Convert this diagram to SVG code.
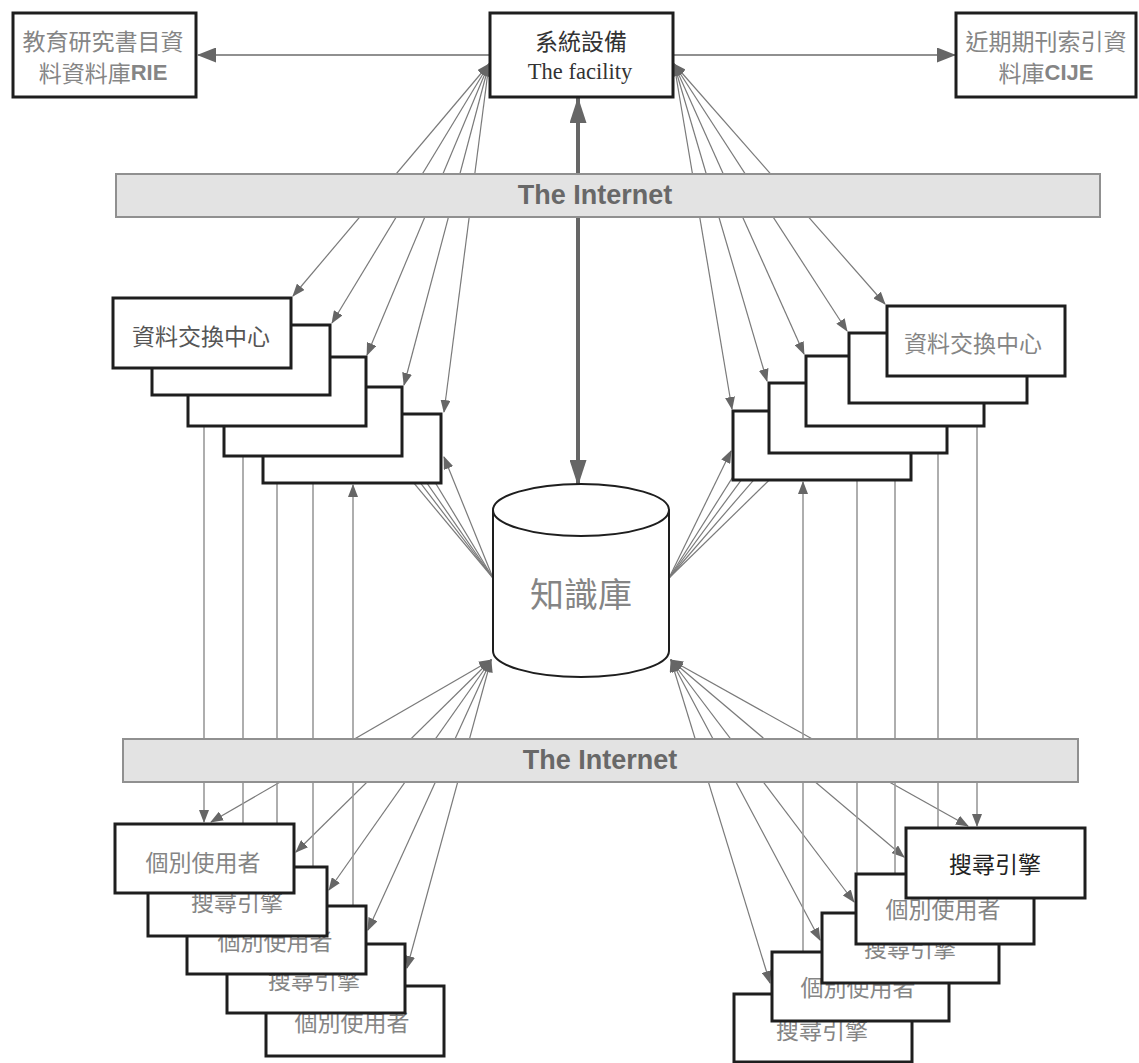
<svg xmlns="http://www.w3.org/2000/svg" width="1139" height="1063" viewBox="0 0 1139 1063">
<style>
.box{fill:#fff;stroke:#1e1e1e;stroke-width:3}
.bar{fill:#e3e3e3;stroke:#909090;stroke-width:2}
.cj{font-family:"Noto Sans CJK TC","Noto Sans CJK SC",sans-serif;font-size:23px;text-anchor:middle;dominant-baseline:central}
.g{fill:#858585}
.d{fill:#333}
.net{font-family:"Liberation Sans",Arial,sans-serif;font-weight:bold;font-size:27px;fill:#686868;text-anchor:middle;dominant-baseline:central}
.ln{stroke:#7a7a7a;stroke-width:1.2;fill:none}
.vl{stroke:#9a9a9a;stroke-width:1.6;fill:none}
.hz{stroke:#909090;stroke-width:2;fill:none}
</style>
<defs>
<marker id="ah" viewBox="0 0 13 10" refX="12" refY="5" markerWidth="13" markerHeight="10" markerUnits="userSpaceOnUse" orient="auto-start-reverse"><path d="M0,0 L13,5 L0,10 z" fill="#666"/></marker>
<marker id="ahL" viewBox="0 0 19 15" refX="18" refY="7.5" markerWidth="19" markerHeight="15" markerUnits="userSpaceOnUse" orient="auto-start-reverse"><path d="M0,0 L19,7.5 L0,15 z" fill="#666"/></marker>
<marker id="ahT" viewBox="0 0 26 17" refX="25" refY="8.5" markerWidth="26" markerHeight="17" markerUnits="userSpaceOnUse" orient="auto-start-reverse"><path d="M0,0 L26,8.5 L0,17 z" fill="#666"/></marker>
</defs>
<rect width="1139" height="1063" fill="#fff"/>

<g id="connectors">
  <line class="hz" x1="490" y1="55" x2="198" y2="55" marker-end="url(#ahL)"/>
  <line class="hz" x1="673" y1="55" x2="955" y2="55" marker-end="url(#ahL)"/>
  <line x1="578" y1="98" x2="578" y2="485" stroke="#666" stroke-width="4" marker-start="url(#ahT)" marker-end="url(#ahT)"/>
  <line class="ln" x1="489" y1="64" x2="293" y2="296" marker-start="url(#ah)" marker-end="url(#ah)"/>
  <line class="ln" x1="489" y1="64" x2="332" y2="323" marker-start="url(#ah)" marker-end="url(#ah)"/>
  <line class="ln" x1="489" y1="64" x2="367" y2="355" marker-start="url(#ah)" marker-end="url(#ah)"/>
  <line class="ln" x1="489" y1="64" x2="404" y2="385" marker-start="url(#ah)" marker-end="url(#ah)"/>
  <line class="ln" x1="489" y1="64" x2="444" y2="412" marker-start="url(#ah)" marker-end="url(#ah)"/>
  <line class="ln" x1="674" y1="64" x2="885" y2="304" marker-start="url(#ah)" marker-end="url(#ah)"/>
  <line class="ln" x1="674" y1="64" x2="847" y2="331" marker-start="url(#ah)" marker-end="url(#ah)"/>
  <line class="ln" x1="674" y1="64" x2="804" y2="354" marker-start="url(#ah)" marker-end="url(#ah)"/>
  <line class="ln" x1="674" y1="64" x2="767" y2="381" marker-start="url(#ah)" marker-end="url(#ah)"/>
  <line class="ln" x1="674" y1="64" x2="732" y2="409" marker-start="url(#ah)" marker-end="url(#ah)"/>
  <line class="ln" x1="493" y1="578" x2="293" y2="338" marker-end="url(#ah)"/>
  <line class="ln" x1="493" y1="578" x2="332" y2="367" marker-end="url(#ah)"/>
  <line class="ln" x1="493" y1="578" x2="367" y2="397" marker-end="url(#ah)"/>
  <line class="ln" x1="493" y1="578" x2="404" y2="431" marker-end="url(#ah)"/>
  <line class="ln" x1="493" y1="578" x2="444" y2="457" marker-end="url(#ah)"/>
  <line class="ln" x1="669" y1="578" x2="885" y2="367" marker-end="url(#ah)"/>
  <line class="ln" x1="669" y1="578" x2="847" y2="372" marker-end="url(#ah)"/>
  <line class="ln" x1="669" y1="578" x2="804" y2="395" marker-end="url(#ah)"/>
  <line class="ln" x1="669" y1="578" x2="767" y2="423" marker-end="url(#ah)"/>
  <line class="ln" x1="669" y1="578" x2="731" y2="451" marker-end="url(#ah)"/>
  <line class="ln" x1="491" y1="660" x2="211" y2="822" marker-start="url(#ah)" marker-end="url(#ah)"/>
  <line class="ln" x1="491" y1="660" x2="296" y2="852" marker-start="url(#ah)" marker-end="url(#ah)"/>
  <line class="ln" x1="491" y1="660" x2="329" y2="890" marker-start="url(#ah)" marker-end="url(#ah)"/>
  <line class="ln" x1="491" y1="660" x2="368" y2="930" marker-start="url(#ah)" marker-end="url(#ah)"/>
  <line class="ln" x1="491" y1="660" x2="407" y2="968" marker-start="url(#ah)" marker-end="url(#ah)"/>
  <line class="ln" x1="671" y1="660" x2="968" y2="826" marker-start="url(#ah)" marker-end="url(#ah)"/>
  <line class="ln" x1="671" y1="660" x2="904" y2="857" marker-start="url(#ah)" marker-end="url(#ah)"/>
  <line class="ln" x1="671" y1="660" x2="854" y2="902" marker-start="url(#ah)" marker-end="url(#ah)"/>
  <line class="ln" x1="671" y1="660" x2="820" y2="940" marker-start="url(#ah)" marker-end="url(#ah)"/>
  <line class="ln" x1="671" y1="660" x2="770" y2="983" marker-start="url(#ah)" marker-end="url(#ah)"/>
  <line class="vl" x1="204" y1="370" x2="204" y2="822" marker-start="url(#ah)" marker-end="url(#ah)"/>
  <line class="vl" x1="243" y1="825" x2="243" y2="397" marker-end="url(#ah)"/>
  <line class="vl" x1="277" y1="825" x2="277" y2="428" marker-end="url(#ah)"/>
  <line class="vl" x1="313" y1="868" x2="313" y2="458" marker-end="url(#ah)"/>
  <line class="vl" x1="353" y1="907" x2="353" y2="485" marker-end="url(#ah)"/>
  <line class="vl" x1="803" y1="953" x2="803" y2="482" marker-end="url(#ah)"/>
  <line class="vl" x1="857" y1="875" x2="857" y2="455" marker-end="url(#ah)"/>
  <line class="vl" x1="895" y1="875" x2="895" y2="428" marker-end="url(#ah)"/>
  <line class="vl" x1="938" y1="829" x2="938" y2="405" marker-end="url(#ah)"/>
  <line class="vl" x1="977" y1="378" x2="977" y2="826" marker-start="url(#ah)" marker-end="url(#ah)"/>
</g>

<g id="n-internet-top">
  <rect class="bar" x="116" y="174" width="984" height="43"/>
  <text class="net" x="595" y="195">The Internet</text>
</g>
<g id="n-internet-bottom">
  <rect class="bar" x="123" y="739" width="955" height="43"/>
  <text class="net" x="600" y="760">The Internet</text>
</g>

<g id="n-rie">
  <rect class="box" x="13" y="13" width="183" height="84"/>
  <text class="cj g" x="103" y="40">教育研究書目資</text>
  <text class="cj g" x="103" y="72">料資料庫<tspan font-family="Liberation Sans, Arial, sans-serif" font-weight="bold" font-size="22">RIE</tspan></text>
</g>
<g id="n-facility">
  <rect class="box" x="490" y="13" width="183" height="84"/>
  <text class="cj d" x="581" y="40">系統設備</text>
  <text x="580" y="71" font-family="Liberation Serif, 'Times New Roman', serif" font-size="22.5" fill="#333" text-anchor="middle" dominant-baseline="central">The facility</text>
</g>
<g id="n-cije">
  <rect class="box" x="956" y="13" width="180" height="84"/>
  <text class="cj g" x="1046" y="40">近期期刊索引資</text>
  <text class="cj g" x="1046" y="72">料庫<tspan font-family="Liberation Sans, Arial, sans-serif" font-weight="bold" font-size="22">CIJE</tspan></text>
</g>

<g id="n-kb">
  <path d="M493,510 L493,651 A88,26 0 0,0 669,651 L669,510" fill="#fff" stroke="#1e1e1e" stroke-width="2"/>
  <ellipse cx="581" cy="510" rx="88" ry="26" fill="#fff" stroke="#1e1e1e" stroke-width="2"/>
  <text x="581" y="592" font-family="Noto Sans CJK TC, Noto Sans CJK SC, sans-serif" font-size="34" fill="#858585" text-anchor="middle" dominant-baseline="central">知識庫</text>
</g>

<g id="n-ex-left-5"><rect class="box" x="263" y="414" width="178" height="69"/></g>
<g id="n-ex-left-4"><rect class="box" x="224" y="387" width="178" height="69"/></g>
<g id="n-ex-left-3"><rect class="box" x="188" y="357" width="178" height="69"/></g>
<g id="n-ex-left-2"><rect class="box" x="152" y="325" width="178" height="70"/></g>
<g id="n-ex-left-1"><rect class="box" x="113" y="298" width="178" height="70"/><text class="cj" fill="#555" x="201" y="335">資料交換中心</text></g>

<g id="n-ex-right-5"><rect class="box" x="733" y="411" width="178" height="69"/></g>
<g id="n-ex-right-4"><rect class="box" x="769" y="383" width="178" height="70"/></g>
<g id="n-ex-right-3"><rect class="box" x="806" y="356" width="178" height="70"/></g>
<g id="n-ex-right-2"><rect class="box" x="849" y="333" width="178" height="70"/></g>
<g id="n-ex-right-1"><rect class="box" x="887" y="306" width="178" height="70"/><text class="cj g" x="973" y="342">資料交換中心</text></g>

<g id="n-ul-5"><rect class="box" x="266" y="986" width="178" height="70"/><text class="cj g" x="352" y="1021">個別使用者</text></g>
<g id="n-ul-4"><rect class="box" x="227" y="944" width="178" height="69"/><text class="cj g" x="314" y="979">搜尋引擎</text></g>
<g id="n-ul-3"><rect class="box" x="187" y="906" width="179" height="68"/><text class="cj g" x="275" y="940">個別使用者</text></g>
<g id="n-ul-2"><rect class="box" x="148" y="867" width="179" height="69"/><text class="cj g" x="237" y="901">搜尋引擎</text></g>
<g id="n-ul-1"><rect class="box" x="115" y="824" width="179" height="69"/><text class="cj g" x="203" y="861">個別使用者</text></g>

<g id="n-ur-5"><rect class="box" x="734" y="994" width="178" height="68"/><text class="cj g" x="822" y="1029">搜尋引擎</text></g>
<g id="n-ur-4"><rect class="box" x="772" y="952" width="177" height="69"/><text class="cj g" x="858" y="986">個別使用者</text></g>
<g id="n-ur-3"><rect class="box" x="822" y="913" width="177" height="70"/><text class="cj g" x="910" y="947">搜尋引擎</text></g>
<g id="n-ur-2"><rect class="box" x="856" y="874" width="178" height="70"/><text class="cj g" x="943" y="908">個別使用者</text></g>
<g id="n-ur-1"><rect class="box" x="906" y="828" width="179" height="70"/><text class="cj" fill="#222" x="995" y="863">搜尋引擎</text></g>
</svg>
